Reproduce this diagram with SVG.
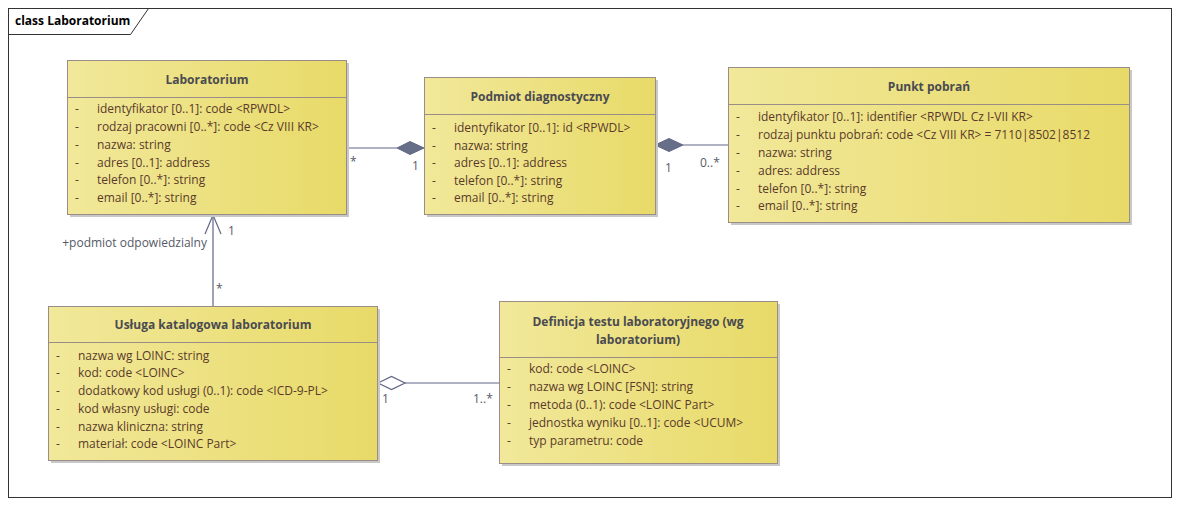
<svg xmlns="http://www.w3.org/2000/svg" width="1181" height="506" viewBox="0 0 1181 506">
  <defs>
    <linearGradient id="cls" x1="0" y1="0" x2="1" y2="0">
      <stop offset="0" stop-color="#f1e89a"/>
      <stop offset="1" stop-color="#e8da68"/>
    </linearGradient>
    <style>
      .box{fill:url(#cls);stroke:#9a8c86;stroke-width:1}
      .shadow{fill:#c8c8c8}
      .sep{stroke:#9a8c86;stroke-width:1}
      .title{font-family:"Segoe UI","Open Sans","Noto Sans",sans-serif;font-size:12px;font-weight:bold;fill:#4a4a50;text-anchor:middle}
      .attr{font-family:"Segoe UI","Open Sans","Noto Sans",sans-serif;font-size:12px;fill:#5a3a2a}
      .lbl{font-family:"Segoe UI","Open Sans","Noto Sans",sans-serif;font-size:12px;fill:#555a66}
      .conn{stroke:#5f6785;stroke-width:1.2;fill:none}
      .frame{font-family:"Segoe UI","Open Sans","Noto Sans",sans-serif;font-size:12px;font-weight:bold;fill:#000}
    </style>
  </defs>

  <rect width="1181" height="506" fill="#ffffff"/>

  <!-- diagram frame -->
  <g id="frame">
    <rect x="8.5" y="8.5" width="1163" height="489" fill="none" stroke="#333" stroke-width="1"/>
    <path d="M8.5 34.5 H130.5 L148.5 8.5" fill="none" stroke="#333" stroke-width="1"/>
    <text class="frame" x="15" y="25">class Laboratorium</text>
  </g>

  <!-- connectors -->
  <g id="connectors">
    <!-- Laboratorium * — 1 Podmiot diagnostyczny (composition) -->
    <line class="conn" x1="346" y1="148" x2="397" y2="148"/>
    <polygon points="397,148 410,141.5 424,148 410,154.5" fill="#666e88" stroke="#5f6785"/>
    <text class="lbl" x="350" y="166">*</text>
    <text class="lbl" x="412" y="170">1</text>

    <!-- Podmiot diagnostyczny 1 — 0..* Punkt pobrań (composition) -->
    <line class="conn" x1="683" y1="145" x2="728" y2="145"/>
    <polygon points="655,145 669,138.5 683,145 669,151.5" fill="#666e88" stroke="#5f6785"/>
    <text class="lbl" x="665" y="172">1</text>
    <text class="lbl" x="700" y="167">0..*</text>

    <!-- Usługa katalogowa * → 1 Laboratorium -->
    <line class="conn" x1="213" y1="306" x2="213" y2="215"/>
    <polyline class="conn" points="205,234 213,215 221,234"/>
    <text class="lbl" x="228" y="235">1</text>
    <text class="lbl" x="207" y="247" text-anchor="end">+podmiot odpowiedzialny</text>
    <text class="lbl" x="216" y="293">*</text>

    <!-- Usługa katalogowa 1 ◇— 1..* Definicja testu (aggregation) -->
    <line class="conn" x1="405" y1="383" x2="499" y2="383"/>
    <polygon points="378,383 391.5,376.5 405,383 391.5,389.5" fill="#fff" stroke="#5f6785" stroke-width="1.2"/>
    <text class="lbl" x="382" y="403">1</text>
    <text class="lbl" x="473" y="403">1..*</text>
  </g>

  <!-- Laboratorium -->
  <g id="laboratorium">
    <rect class="shadow" x="70" y="63" width="279" height="154"/>
    <rect class="box" x="67.5" y="60.5" width="279" height="154"/>
    <line class="sep" x1="67.5" y1="97.5" x2="346.5" y2="97.5"/>
    <text class="title" x="207" y="84">Laboratorium</text>
    <g class="attr">
      <text x="75" y="113">-</text><text x="97" y="113">identyfikator [0..1]: code &lt;RPWDL&gt;</text>
      <text x="75" y="131">-</text><text x="97" y="131">rodzaj pracowni [0..*]: code &lt;Cz VIII KR&gt;</text>
      <text x="75" y="149">-</text><text x="97" y="149">nazwa: string</text>
      <text x="75" y="167">-</text><text x="97" y="167">adres [0..1]: address</text>
      <text x="75" y="184">-</text><text x="97" y="184">telefon [0..*]: string</text>
      <text x="75" y="202">-</text><text x="97" y="202">email [0..*]: string</text>
    </g>
  </g>

  <!-- Podmiot diagnostyczny -->
  <g id="podmiot-diagnostyczny">
    <rect class="shadow" x="427" y="80" width="231" height="137"/>
    <rect class="box" x="424.5" y="77.5" width="231" height="137"/>
    <line class="sep" x1="424.5" y1="114.5" x2="655.5" y2="114.5"/>
    <text class="title" x="540" y="101">Podmiot diagnostyczny</text>
    <g class="attr">
      <text x="432" y="132">-</text><text x="454" y="132">identyfikator [0..1]: id &lt;RPWDL&gt;</text>
      <text x="432" y="150">-</text><text x="454" y="150">nazwa: string</text>
      <text x="432" y="167">-</text><text x="454" y="167">adres [0..1]: address</text>
      <text x="432" y="185">-</text><text x="454" y="185">telefon [0..*]: string</text>
      <text x="432" y="202">-</text><text x="454" y="202">email [0..*]: string</text>
    </g>
  </g>

  <!-- Punkt pobrań -->
  <g id="punkt-pobran">
    <rect class="shadow" x="731" y="70" width="401" height="155"/>
    <rect class="box" x="728.5" y="67.5" width="401" height="155"/>
    <line class="sep" x1="728.5" y1="104.5" x2="1129.5" y2="104.5"/>
    <text class="title" x="929" y="91">Punkt pobrań</text>
    <g class="attr">
      <text x="736" y="121">-</text><text x="758" y="121">identyfikator [0..1]: identifier &lt;RPWDL Cz I-VII KR&gt;</text>
      <text x="736" y="139">-</text><text x="758" y="139">rodzaj punktu pobrań: code &lt;Cz VIII KR&gt; = 7110|8502|8512</text>
      <text x="736" y="157">-</text><text x="758" y="157">nazwa: string</text>
      <text x="736" y="175">-</text><text x="758" y="175">adres: address</text>
      <text x="736" y="193">-</text><text x="758" y="193">telefon [0..*]: string</text>
      <text x="736" y="210">-</text><text x="758" y="210">email [0..*]: string</text>
    </g>
  </g>

  <!-- Usługa katalogowa laboratorium -->
  <g id="usluga-katalogowa">
    <rect class="shadow" x="51" y="309" width="329" height="154"/>
    <rect class="box" x="48.5" y="306.5" width="329" height="154"/>
    <line class="sep" x1="48.5" y1="342.5" x2="377.5" y2="342.5"/>
    <text class="title" x="213" y="329">Usługa katalogowa laboratorium</text>
    <g class="attr">
      <text x="56" y="360">-</text><text x="78" y="360">nazwa wg LOINC: string</text>
      <text x="56" y="377">-</text><text x="78" y="377">kod: code &lt;LOINC&gt;</text>
      <text x="56" y="395">-</text><text x="78" y="395">dodatkowy kod usługi (0..1): code &lt;ICD-9-PL&gt;</text>
      <text x="56" y="413">-</text><text x="78" y="413">kod własny usługi: code</text>
      <text x="56" y="431">-</text><text x="78" y="431">nazwa kliniczna: string</text>
      <text x="56" y="448">-</text><text x="78" y="448">materiał: code &lt;LOINC Part&gt;</text>
    </g>
  </g>

  <!-- Definicja testu laboratoryjnego (wg laboratorium) -->
  <g id="definicja-testu">
    <rect class="shadow" x="502" y="304" width="278" height="162"/>
    <rect class="box" x="499.5" y="301.5" width="278" height="162"/>
    <line class="sep" x1="499.5" y1="357.5" x2="777.5" y2="357.5"/>
    <text class="title" x="638" y="326">Definicja testu laboratoryjnego (wg</text>
    <text class="title" x="638" y="344">laboratorium)</text>
    <g class="attr">
      <text x="507" y="373">-</text><text x="529" y="373">kod: code &lt;LOINC&gt;</text>
      <text x="507" y="391">-</text><text x="529" y="391">nazwa wg LOINC [FSN]: string</text>
      <text x="507" y="409">-</text><text x="529" y="409">metoda (0..1): code &lt;LOINC Part&gt;</text>
      <text x="507" y="427">-</text><text x="529" y="427">jednostka wyniku [0..1]: code &lt;UCUM&gt;</text>
      <text x="507" y="445">-</text><text x="529" y="445">typ parametru: code</text>
    </g>
  </g>
</svg>
